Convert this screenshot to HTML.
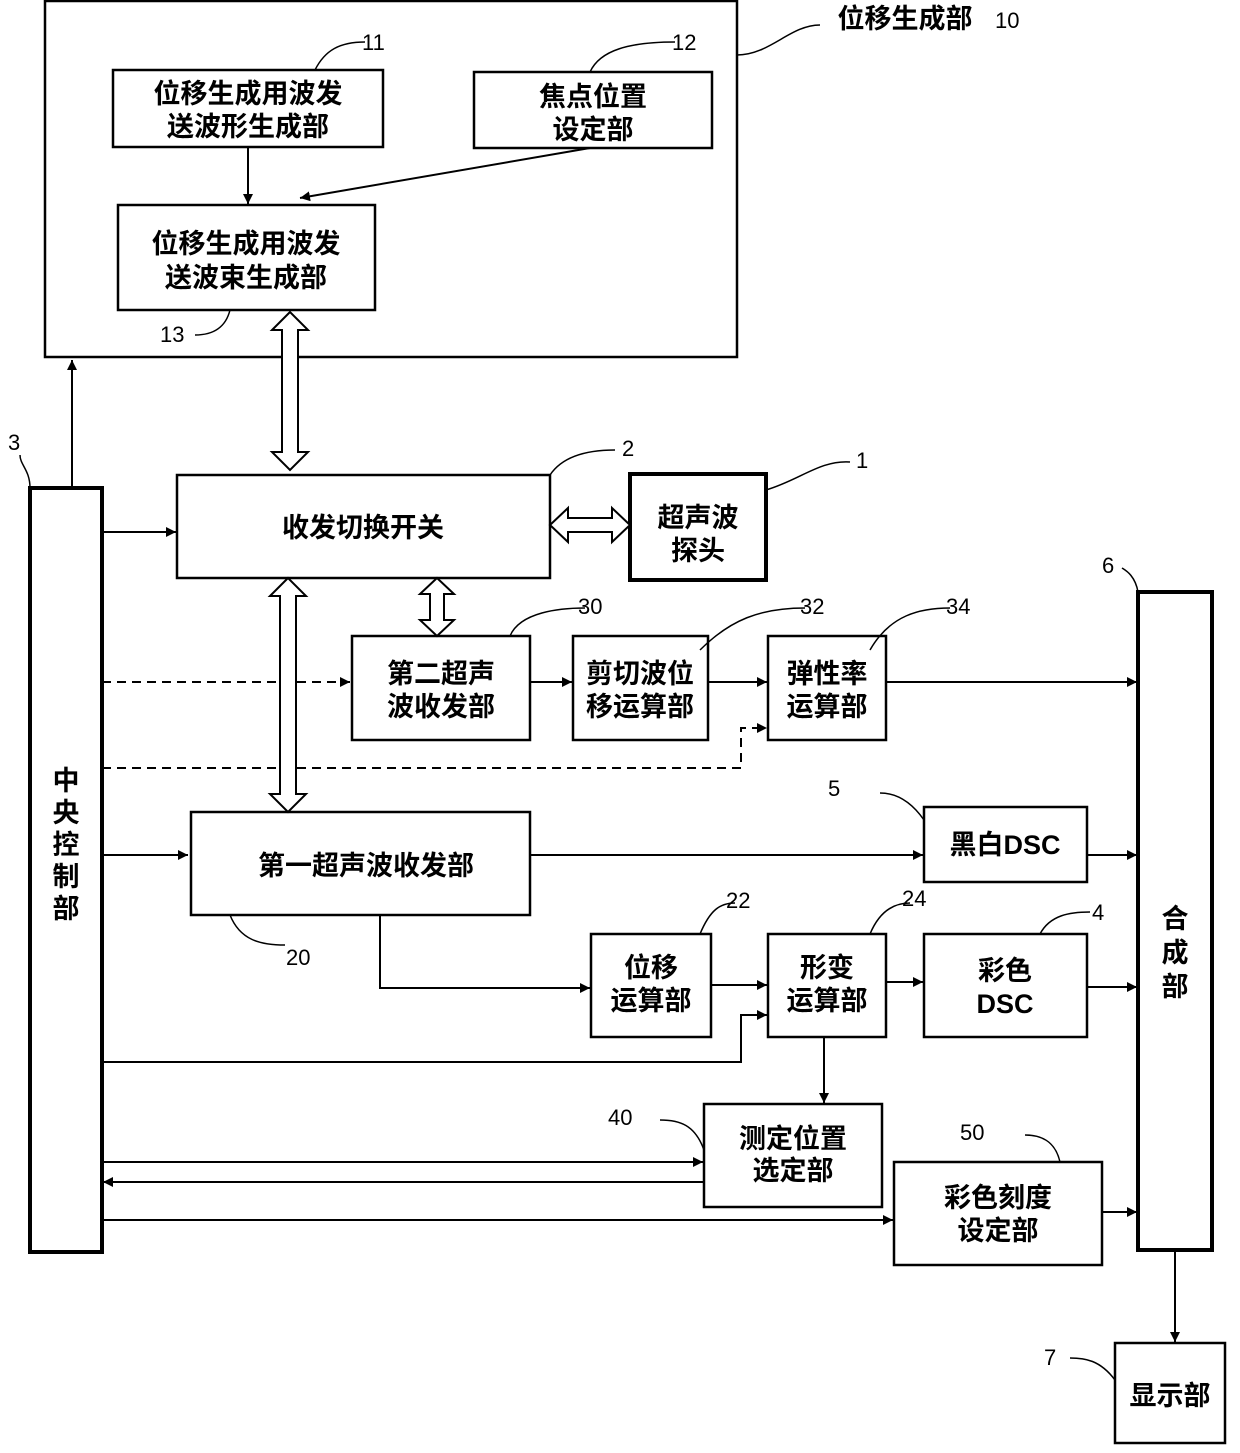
<!DOCTYPE html>
<html><head><meta charset="utf-8"><style>
html,body{margin:0;padding:0;background:#fff}
svg text{font-family:"Liberation Sans","Noto Sans CJK SC",sans-serif;font-weight:bold;fill:#000}
.t{font-size:27px;text-anchor:middle}
.n text{font-size:22px;font-weight:normal}
</style></head><body>
<svg width="1240" height="1448" viewBox="0 0 1240 1448" xmlns="http://www.w3.org/2000/svg">
<defs>
<marker id="a" viewBox="0 0 10 10" refX="10" refY="5" markerWidth="10" markerHeight="10" markerUnits="userSpaceOnUse" orient="auto"><path d="M0,0L10,5L0,10z" fill="#000"/></marker>
</defs>
<g fill="none" stroke="#000" stroke-width="2.5">
<rect x="45" y="1" width="692" height="356"/>
<rect x="113" y="70" width="270" height="77"/>
<rect x="474" y="72" width="238" height="76"/>
<rect x="118" y="205" width="257" height="105"/>
<rect x="30" y="488" width="72" height="764" stroke-width="4"/>
<rect x="177" y="475" width="373" height="103"/>
<rect x="630" y="474" width="136" height="106" stroke-width="4"/>
<rect x="352" y="636" width="178" height="104"/>
<rect x="573" y="636" width="135" height="104"/>
<rect x="768" y="636" width="118" height="104"/>
<rect x="1138" y="592" width="74" height="658" stroke-width="4"/>
<rect x="924" y="807" width="163" height="75"/>
<rect x="191" y="812" width="339" height="103"/>
<rect x="591" y="934" width="120" height="103"/>
<rect x="768" y="934" width="118" height="103"/>
<rect x="924" y="934" width="163" height="103"/>
<rect x="704" y="1104" width="178" height="103"/>
<rect x="894" y="1162" width="208" height="103"/>
<rect x="1115" y="1343" width="110" height="100"/>
</g>
<g fill="none" stroke="#000" stroke-width="2" marker-end="url(#a)">
<line x1="248" y1="147" x2="248" y2="204"/>
<line x1="590" y1="148" x2="300" y2="198"/>
<line x1="72" y1="488" x2="72" y2="360"/>
<line x1="102" y1="532" x2="176" y2="532"/>
<line x1="102" y1="682" x2="350" y2="682" stroke-dasharray="9,6"/>
<polyline points="102,768 741,768 741,728 767,728" stroke-dasharray="9,6"/>
<line x1="530" y1="682" x2="572" y2="682"/>
<line x1="708" y1="682" x2="767" y2="682"/>
<line x1="886" y1="682" x2="1137" y2="682"/>
<line x1="102" y1="855" x2="188" y2="855"/>
<line x1="530" y1="855" x2="923" y2="855"/>
<line x1="1087" y1="855" x2="1137" y2="855"/>
<polyline points="380,915 380,988 590,988"/>
<line x1="711" y1="985" x2="767" y2="985"/>
<line x1="886" y1="982" x2="923" y2="982"/>
<line x1="1087" y1="987" x2="1137" y2="987"/>
<polyline points="102,1062 741,1062 741,1015 767,1015"/>
<line x1="824" y1="1037" x2="824" y2="1103"/>
<line x1="102" y1="1162" x2="703" y2="1162"/>
<line x1="704" y1="1182" x2="103" y2="1182"/>
<line x1="102" y1="1220" x2="893" y2="1220"/>
<line x1="1102" y1="1212" x2="1137" y2="1212"/>
<line x1="1175" y1="1250" x2="1175" y2="1342"/>
</g>
<g fill="#fff" stroke="#000" stroke-width="2">
<path d="M290,312 L272,330 L282,330 L282,452 L272,452 L290,470 L308,452 L298,452 L298,330 L308,330 Z"/>
<path d="M550,525 L568,508 L568,518 L612,518 L612,508 L630,525 L612,542 L612,532 L568,532 L568,542 Z"/>
<path d="M437,578 L420,594 L430,594 L430,620 L420,620 L437,636 L454,620 L444,620 L444,594 L454,594 Z"/>
<path d="M288,578 L270,596 L280,596 L280,794 L270,794 L288,812 L306,794 L296,794 L296,596 L306,596 Z"/>
</g>
<g fill="none" stroke="#000" stroke-width="1.5">
<path d="M737,55 C770,55 790,25 820,25"/>
<path d="M315,70 C325,50 340,42 365,42"/>
<path d="M590,72 C600,50 630,42 675,42"/>
<path d="M230,310 C225,330 210,335 195,335"/>
<path d="M30,488 C30,470 20,465 20,455"/>
<path d="M550,475 C560,460 580,450 615,450"/>
<path d="M766,490 C800,480 820,460 850,462"/>
<path d="M1138,592 C1135,575 1125,570 1122,568"/>
<path d="M510,636 C520,612 560,608 585,608"/>
<path d="M700,650 C730,620 760,608 805,608"/>
<path d="M870,650 C890,615 920,608 950,608"/>
<path d="M924,820 C910,800 895,793 880,793"/>
<path d="M230,915 C240,940 260,945 285,945"/>
<path d="M700,934 C710,910 720,903 735,903"/>
<path d="M870,934 C880,910 895,903 910,903"/>
<path d="M1040,934 C1050,915 1070,912 1090,912"/>
<path d="M704,1150 C695,1125 680,1120 660,1120"/>
<path d="M1060,1162 C1055,1140 1040,1135 1025,1135"/>
<path d="M1115,1380 C1100,1360 1085,1358 1070,1358"/>
</g>
<g class="t">
<text x="905" y="28" style="text-anchor:middle">位移生成部</text>
<text x="248" y="103">位移生成用波发</text><text x="248" y="136">送波形生成部</text>
<text x="593" y="106">焦点位置</text><text x="593" y="139">设定部</text>
<text x="246" y="253">位移生成用波发</text><text x="246" y="287">送波束生成部</text>
<text x="363" y="537">收发切换开关</text>
<text x="698" y="527">超声波</text><text x="698" y="560">探头</text>
<text x="441" y="683">第二超声</text><text x="441" y="716">波收发部</text>
<text x="640" y="683">剪切波位</text><text x="640" y="716">移运算部</text>
<text x="827" y="683">弹性率</text><text x="827" y="716">运算部</text>
<text x="1005" y="854">黑白DSC</text>
<text x="366" y="875">第一超声波收发部</text>
<text x="651" y="977">位移</text><text x="651" y="1010">运算部</text>
<text x="827" y="977">形变</text><text x="827" y="1010">运算部</text>
<text x="1005" y="980">彩色</text><text x="1005" y="1013">DSC</text>
<text x="793" y="1148">测定位置</text><text x="793" y="1180">选定部</text>
<text x="998" y="1207">彩色刻度</text><text x="998" y="1240">设定部</text>
<text x="1170" y="1405">显示部</text>
<text x="66" y="790">中</text><text x="66" y="822">央</text><text x="66" y="854">控</text><text x="66" y="886">制</text><text x="66" y="918">部</text>
<text x="1175" y="928">合</text><text x="1175" y="962">成</text><text x="1175" y="996">部</text>
</g>
<g class="n">
<text x="995" y="28">10</text>
<text x="362" y="50">11</text><text x="672" y="50">12</text>
<text x="160" y="342">13</text>
<text x="8" y="450">3</text><text x="622" y="456">2</text><text x="856" y="468">1</text>
<text x="1102" y="573">6</text>
<text x="578" y="614">30</text><text x="800" y="614">32</text><text x="946" y="614">34</text>
<text x="828" y="796">5</text>
<text x="286" y="965">20</text>
<text x="726" y="908">22</text><text x="902" y="906">24</text><text x="1092" y="920">4</text>
<text x="608" y="1125">40</text><text x="960" y="1140">50</text>
<text x="1044" y="1365">7</text>
</g>
</svg>
</body></html>
